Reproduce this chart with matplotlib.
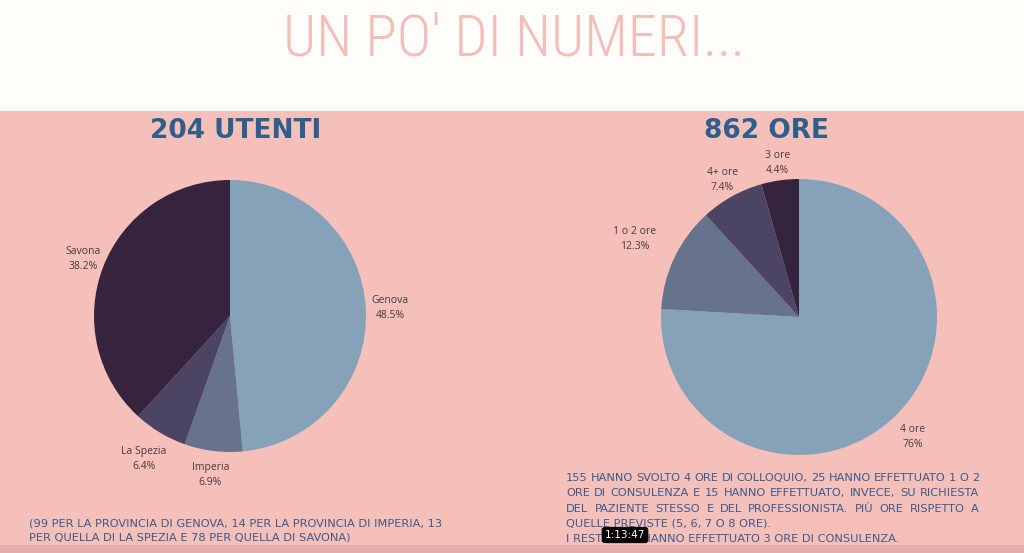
import matplotlib
matplotlib.use("Agg")
import numpy as np
import matplotlib.pyplot as plt
from matplotlib import font_manager
from matplotlib.patches import Rectangle

# --- data ---
utenti_labels = ["Genova", "Imperia", "La Spezia", "Savona"]
utenti_pct = [48.5, 6.9, 6.4, 38.2]

ore_labels = ["4 ore", "1 o 2 ore", "4+ ore", "3 ore"]
ore_pct = [76.0, 12.3, 7.4, 4.4]

title = "UN PO' DI NUMERI..."
head_left = "204 UTENTI"
head_right = "862 ORE"
note_left = ["(99 PER LA PROVINCIA DI GENOVA, 14 PER LA PROVINCIA DI IMPERIA, 13",
             "PER QUELLA DI LA SPEZIA E 78 PER QUELLA DI SAVONA)"]
note_right = ["155 HANNO SVOLTO 4 ORE DI COLLOQUIO, 25 HANNO EFFETTUATO 1 O 2",
              "ORE DI CONSULENZA E 15 HANNO EFFETTUATO, INVECE, SU RICHIESTA",
              "DEL PAZIENTE STESSO E DEL PROFESSIONISTA. PIÙ ORE RISPETTO A",
              "QUELLE PREVISTE (5, 6, 7 O 8 ORE).",
              "I RESTANTI 9 HANNO EFFETTUATO 3 ORE DI CONSULENZA."]

# --- style ---
W, H = 1024, 553
pink = "#f5bfba"
white = "#fffdf9"
blue = "#2d5f8c"
text_blue = "#3c5a8c"
label_col = "#4a3b3d"
slice_cols = ["#86a2b8", "#67728c", "#4b4563", "#36233d"]

names = {f.name for f in font_manager.fontManager.ttflist}
title_font = "DejaVu Sans"
for cand in ["Roboto Condensed", "Liberation Sans Narrow", "Open Sans Condensed"]:
    if cand in names:
        title_font = cand
        break
label_font = "Open Sans" if "Open Sans" in names else "DejaVu Sans"

fig = plt.figure(figsize=(W / 100, H / 100), dpi=100)
fig.patch.set_facecolor(pink)
fig.patches.append(Rectangle((0, (H - 111) / H), 1, 111 / H, transform=fig.transFigure,
                             facecolor=white, edgecolor="none", zorder=0))
fig.patches.append(Rectangle((0, 0), 1, 8 / H, transform=fig.transFigure,
                             facecolor="#e3aeaa", edgecolor="none", zorder=0))


def px(x, y):
    return x / W, 1 - y / H


fig.text(*px(514, 40), title, ha="center", va="center", fontsize=42,
         family=title_font, fontweight="light", color="#f4bdb8")
fig.text(*px(236, 131), head_left, ha="center", va="center", fontsize=19,
         fontweight="bold", color=blue)
fig.text(*px(767, 131), head_right, ha="center", va="center", fontsize=19,
         fontweight="bold", color=blue)


def pie_at(cx, cy, r, values, labels, dists):
    ax = fig.add_axes([(cx - 1.25 * r) / W, (H - cy - 1.25 * r) / H,
                       2.5 * r / W, 2.5 * r / H])
    lab = [f"{l}\n{v:g}%" for l, v in zip(labels, values)]
    wedges, texts = ax.pie(values, labels=lab, colors=slice_cols, startangle=90,
                           counterclock=False, labeldistance=1.2,
                           wedgeprops=dict(linewidth=0),
                           textprops=dict(fontsize=7.5, color=label_col,
                                          family=label_font))
    for w, t, d in zip(wedges, texts, dists):
        ang = np.deg2rad((w.theta1 + w.theta2) / 2)
        t.set_position((d * np.cos(ang), d * np.sin(ang)))
        t.set_ha("center")
        t.set_va("center")
        t.set_linespacing(1.5)
    return ax


pie_at(230, 316, 136, utenti_pct, utenti_labels, [1.18, 1.18, 1.23, 1.16])
pie_at(799, 317, 138, ore_pct, ore_labels, [1.2, 1.32, 1.14, 1.13])

note_kw = dict(fontsize=8.2, color=text_blue, va="center")
for i, line in enumerate(note_left):
    fig.text(*px(29, 523 + 15 * i), line, ha="left", **note_kw)

# right note: first three lines justified between x=566 and x=979
renderer = fig.canvas.get_renderer()
x0, x1 = 566, 979
for i, line in enumerate(note_right):
    y = 478 + 15.3 * i
    if i >= 3:
        fig.text(*px(x0, y), line, ha="left", **note_kw)
        continue
    words = line.split(" ")
    arts = [fig.text(0, 0, w, ha="left", **note_kw) for w in words]
    widths = [a.get_window_extent(renderer).width for a in arts]
    gap = (x1 - x0 - sum(widths)) / (len(words) - 1)
    x = x0
    for a, wd in zip(arts, widths):
        a.set_position(px(x, y))
        x += wd + gap

# video timestamp overlay
fig.text(*px(625, 535), "1:13:47", ha="center", va="center", fontsize=7.5,
         color="white", bbox=dict(boxstyle="round,pad=0.3", fc="black", ec="none"))

fig.savefig("out.png", dpi=100, facecolor=fig.get_facecolor())
